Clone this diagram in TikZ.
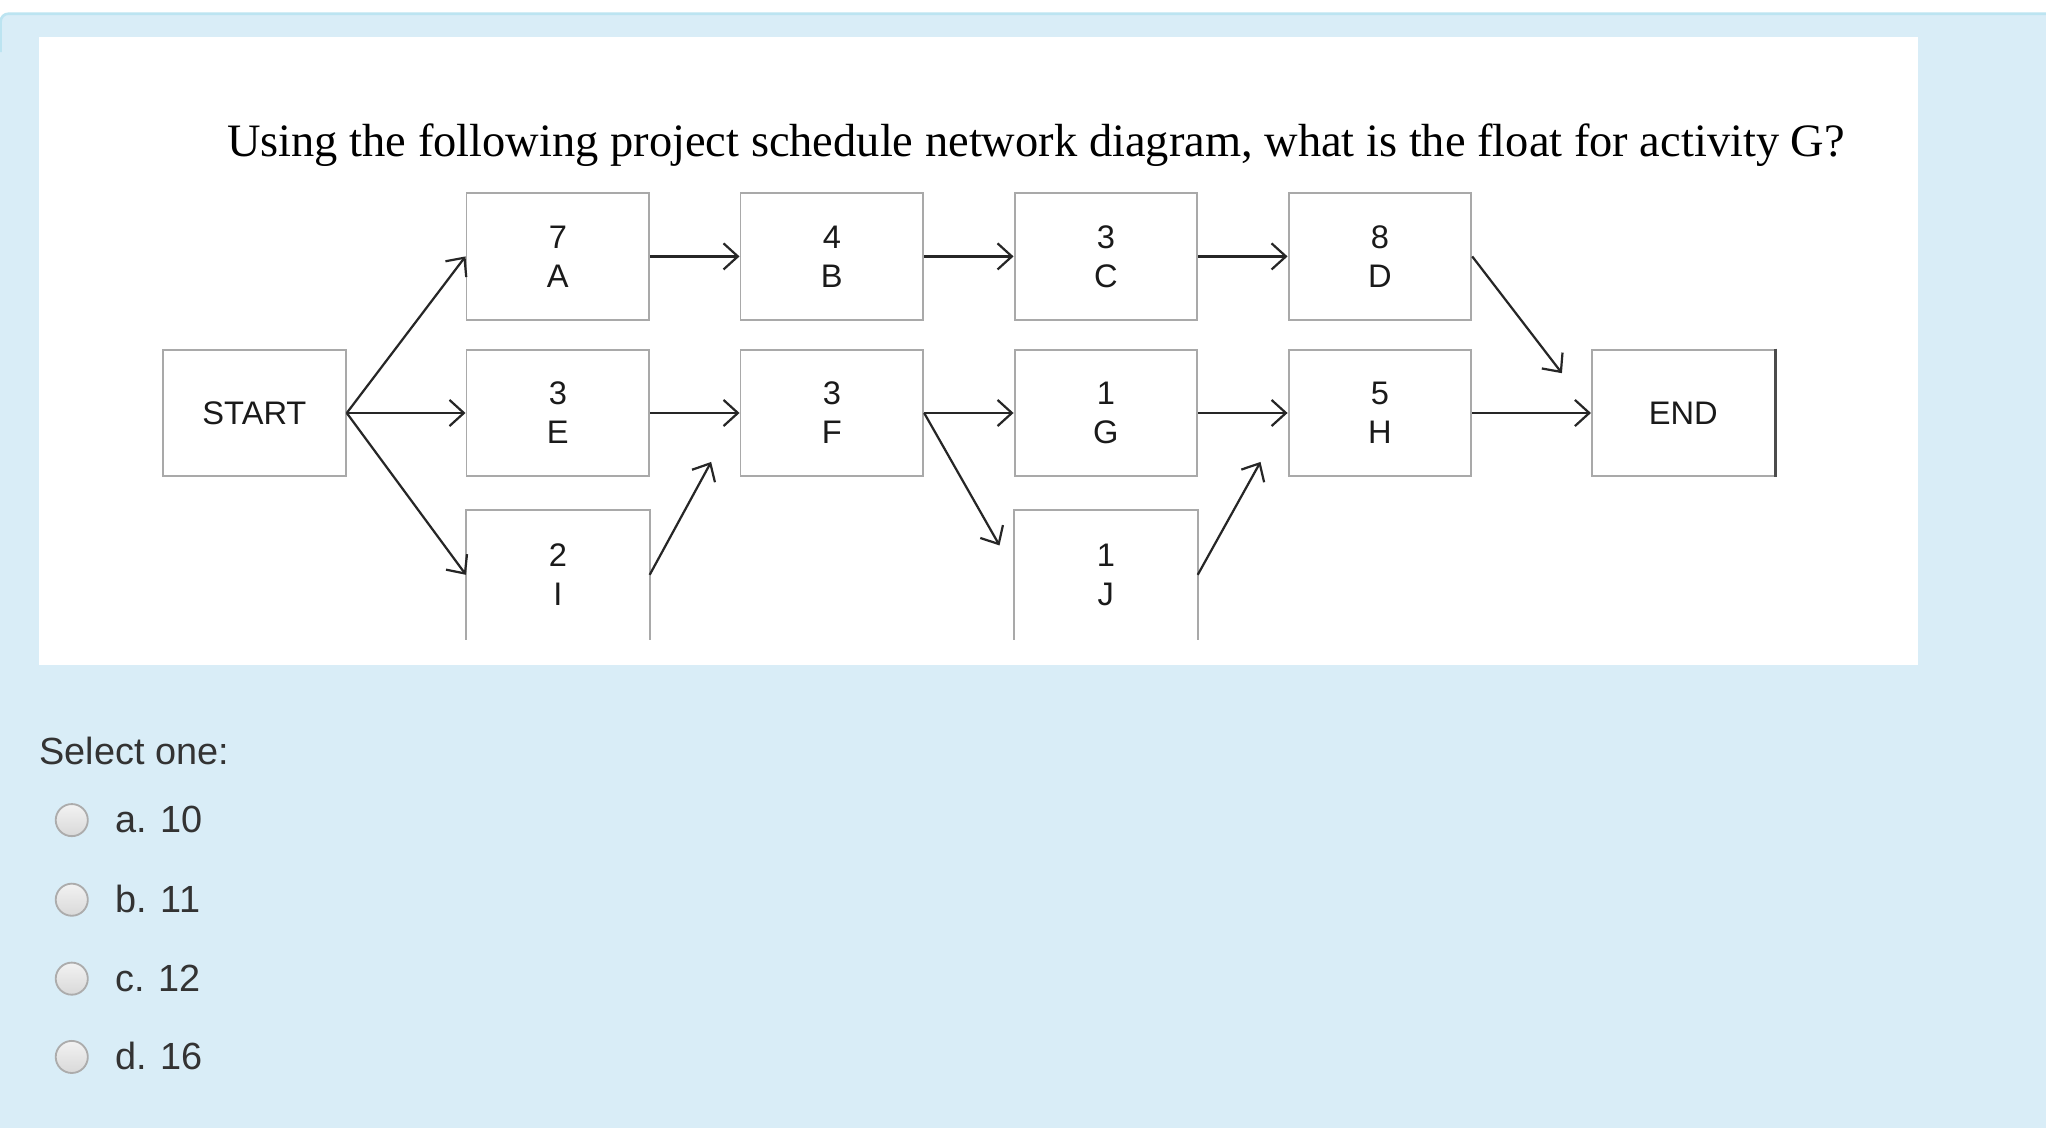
\documentclass[tikz,border=0pt]{standalone}
\usepackage{fontspec}
\setmainfont{Liberation Serif}
\setsansfont{Liberation Sans}
\usetikzlibrary{arrows.meta}
\definecolor{panelbg}{HTML}{D9EDF7}
\definecolor{panelline}{HTML}{BCE4F1}
\definecolor{boxline}{HTML}{A9A9A9}
\definecolor{txt}{HTML}{1A1A1A}
\definecolor{opttxt}{HTML}{333333}
\begin{document}
\begin{tikzpicture}[x=0.5pt,y=-0.5pt,
  actbox/.style={draw=boxline, line width=0.75pt, minimum width=70pt, minimum height=48.5pt,
    inner sep=0pt, align=center, font=\sffamily\fontsize{12.5}{15}\selectfont, text=txt},
  openbox/.style={minimum width=70pt, minimum height=49.5pt,
    inner sep=0pt, align=center, font=\sffamily\fontsize{12.5}{15}\selectfont, text=txt},
  conn/.style={draw=black!85, line width=0.85pt, -{Straight Barb[length=5.5pt,width=10pt]}},
  radio/.style={circle, minimum size=12.3pt, inner sep=0pt, draw=gray!65, line width=0.7pt,
    top color=gray!10, bottom color=gray!30},
  opt/.style={anchor=base west, inner sep=0pt, font=\sffamily\fontsize{14.5}{17}\selectfont, text=opttxt}]
\useasboundingbox (0,0) rectangle (1568,864);
% background
\fill[white] (0,0) rectangle (1568,864);
\fill[panelbg, rounded corners=3pt] (0,10) rectangle (1590,890);
\draw[panelline, line width=1pt, rounded corners=3pt] (0.5,40) -- (0.5,10.5) -- (1590,10.5);
\fill[white] (30,28) rectangle (1470,510);
% title
\node[anchor=base, inner sep=0pt, font=\fontsize{17.8}{20}\selectfont, text=black] (title) at (794,120)
  {Using the following project schedule network diagram, what is the float for activity G?};
% activity boxes
\node[actbox] (START) at (195,316.5) {START};
\node[actbox] (A) at (427.5,196.5) {7\\A};
\node[actbox] (B) at (637.5,196.5) {4\\B};
\node[actbox] (C) at (847.5,196.5) {3\\C};
\node[actbox] (D) at (1057.5,196.5) {8\\D};
\node[actbox] (E) at (427.5,316.5) {3\\E};
\node[actbox] (F) at (637.5,316.5) {3\\F};
\node[actbox] (G) at (847.5,316.5) {1\\G};
\node[actbox] (H) at (1057.5,316.5) {5\\H};
\node[actbox] (END) at (1290,316.5) {END};
\draw[black!70, line width=1.3pt] (END.north east) -- (END.south east);
\node[openbox] (I) at (427.5,440.5) {2\\I};
\node[openbox] (J) at (847.5,440.5) {1\\J};
\draw[boxline, line width=0.75pt] (I.south west) -- (I.north west) -- (I.north east) -- (I.south east);
\draw[boxline, line width=0.75pt] (J.south west) -- (J.north west) -- (J.north east) -- (J.south east);
% free arrow ends
\coordinate (dEnd) at (1197,286);
\coordinate (iF) at (545,354);
\coordinate (fJ) at (766,418);
\coordinate (jH) at (966,354);
% connectors
\draw[conn] (START.east) -- (A.west);
\draw[conn] (START.east) -- (E.west);
\draw[conn] (START.east) -- (I.west);
\draw[conn] (A.east) -- (B.west);
\draw[conn] (B.east) -- (C.west);
\draw[conn] (C.east) -- (D.west);
\draw[conn] (D.east) -- (dEnd);
\draw[conn] (E.east) -- (F.west);
\draw[conn] (I.east) -- (iF);
\draw[conn] (F.east) -- (G.west);
\draw[conn] (F.east) -- (fJ);
\draw[conn] (G.east) -- (H.west);
\draw[conn] (J.east) -- (jH);
\draw[conn] (H.east) -- (END.west);
% answers
\node[opt] (sel) at (30,586) {Select one:};
\node[radio] (ra) at (55,628.5) {};
\node[radio] (rb) at (55,689.5) {};
\node[radio] (rc) at (55,750) {};
\node[radio] (rd) at (55,810) {};
\node[opt] (oa) at (88,638) {a. 10};
\node[opt] (ob) at (88,699) {b. 11};
\node[opt] (oc) at (88,759.5) {c. 12};
\node[opt] (od) at (88,819.5) {d. 16};
\end{tikzpicture}
\end{document}
